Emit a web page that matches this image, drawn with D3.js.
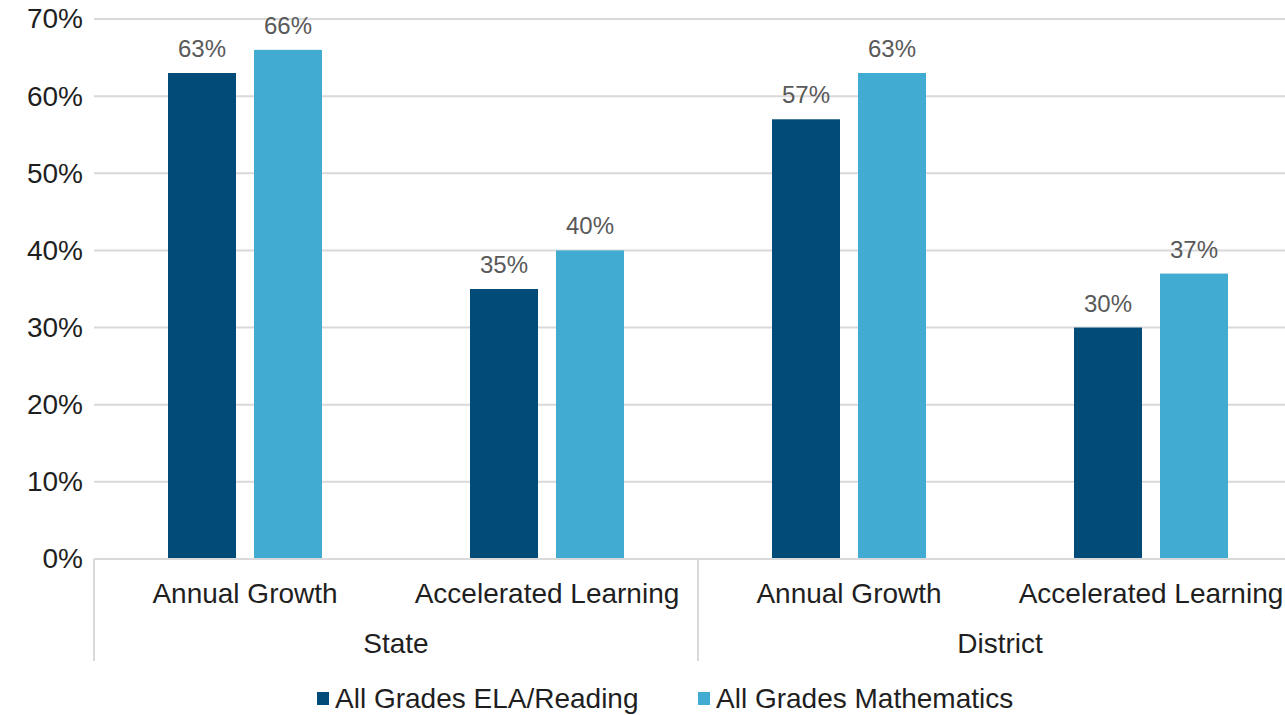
<!DOCTYPE html>
<html>
<head>
<meta charset="utf-8">
<script src="https://cdn.jsdelivr.net/npm/d3@7/dist/d3.min.js"></script>
<style>
  html, body { margin: 0; padding: 0; background: #fff; }
  svg { display: block; font-family: "Liberation Sans", Arial, sans-serif; }
</style>
</head>
<body>
<svg id="chart" width="1285" height="715"></svg>
<script>
// Growth measures by level and subject
const groups = ["State", "District"];
const measures = ["Annual Growth", "Accelerated Learning"];
const seriesNames = ["All Grades ELA/Reading", "All Grades Mathematics"];
const elaValues = [63, 35, 57, 30];
const mathValues = [66, 40, 63, 37];
const yTicks = [0, 10, 20, 30, 40, 50, 60, 70];
const colors = ["#004b78", "#41abd2"];

const svg = d3.select("#chart");
const plotLeft = 94, plotWidth = 1208, plotTop = 19, plotBottom = 559;

const categories = [];
groups.forEach(g => measures.forEach(m => categories.push({ group: g, measure: m, key: g + "|" + m })));

const x = d3.scaleBand().domain(categories.map(c => c.key)).range([plotLeft, plotLeft + plotWidth]).padding(0);
const xInner = d3.scaleBand().domain(seriesNames).range([0, x.bandwidth()]).paddingInner(0.2093).paddingOuter(0.8605);
const y = d3.scaleLinear().domain([0, 70]).range([plotBottom, plotTop]);

// horizontal gridlines
svg.append("g").selectAll("line").data(yTicks).join("line")
  .attr("x1", plotLeft).attr("x2", 1285)
  .attr("y1", d => y(d)).attr("y2", d => y(d))
  .attr("stroke", "#d9d9d9").attr("stroke-width", 2);

// y axis labels
const yAxis = d3.axisLeft(y).tickValues(yTicks).tickFormat(d => d + "%").tickSize(0).tickPadding(11);
const ya = svg.append("g").attr("transform", `translate(${plotLeft},0)`).call(yAxis);
ya.select(".domain").remove();
ya.selectAll("text").attr("font-size", 28).attr("fill", "#1f1f1f").attr("font-family", "Liberation Sans, Arial, sans-serif");

// bars
const seriesData = [elaValues, mathValues];
const barG = svg.append("g");
categories.forEach((c, i) => {
  seriesNames.forEach((s, j) => {
    const v = seriesData[j][i];
    const bx = x(c.key) + xInner(s);
    barG.append("rect")
      .attr("x", bx).attr("y", y(v))
      .attr("width", xInner.bandwidth()).attr("height", y(0) - y(v))
      .attr("fill", colors[j]);
    barG.append("text")
      .attr("x", bx + xInner.bandwidth() / 2).attr("y", y(v) - 16)
      .attr("text-anchor", "middle").attr("font-size", 24).attr("fill", "#595959")
      .text(v + "%");
  });
});

// baseline and group separators
const axisG = svg.append("g");
axisG.append("line").attr("x1", plotLeft).attr("x2", 1285).attr("y1", plotBottom).attr("y2", plotBottom)
  .attr("stroke", "#d9d9d9").attr("stroke-width", 2);
const groupWidth = x.bandwidth() * measures.length;
groups.forEach((g, gi) => {
  const gx = plotLeft + gi * groupWidth;
  axisG.append("line").attr("x1", gx).attr("x2", gx).attr("y1", plotBottom).attr("y2", 661)
    .attr("stroke", "#d9d9d9").attr("stroke-width", 2);
  axisG.append("text").attr("x", gx + groupWidth / 2).attr("y", 653)
    .attr("text-anchor", "middle").attr("font-size", 28).attr("fill", "#1f1f1f").text(g);
});

// category labels
axisG.selectAll("text.cat").data(categories).join("text").attr("class", "cat")
  .attr("x", d => x(d.key) + x.bandwidth() / 2).attr("y", 603)
  .attr("text-anchor", "middle").attr("font-size", 28).attr("fill", "#1f1f1f")
  .text(d => d.measure);

// legend
const legend = svg.append("g");
const legendX = [317, 698];
seriesNames.forEach((s, j) => {
  legend.append("rect").attr("x", legendX[j]).attr("y", 692).attr("width", 12).attr("height", 13).attr("fill", colors[j]);
  legend.append("text").attr("x", legendX[j] + 18).attr("y", 708)
    .attr("font-size", 28).attr("fill", "#1f1f1f").text(s);
});
</script>
</body>
</html>
